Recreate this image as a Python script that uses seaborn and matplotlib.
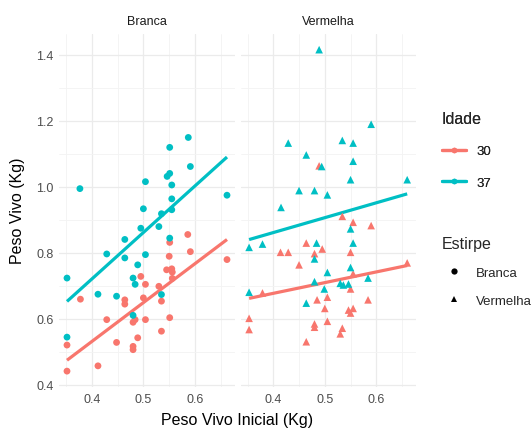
import numpy as np
import pandas as pd
import matplotlib
matplotlib.use("Agg")
import matplotlib.pyplot as plt
import seaborn as sns
from matplotlib.lines import Line2D
from matplotlib.ticker import MultipleLocator

# ---------------- data ----------------
strains = ["Branca", "Vermelha"]
ages = ["30", "37"]
palette = {"30": "#F8766D", "37": "#00BFC4"}

branca_30_x = [0.586, 0.551, 0.550, 0.591, 0.662, 0.545, 0.555, 0.556, 0.495, 0.556,
               0.504, 0.530, 0.378, 0.500, 0.535, 0.464, 0.464, 0.429, 0.484, 0.480,
               0.504, 0.551, 0.535, 0.448, 0.489, 0.480, 0.480, 0.352, 0.412, 0.352]
branca_30_y = [0.856, 0.832, 0.790, 0.804, 0.780, 0.749, 0.752, 0.742, 0.729, 0.723,
               0.705, 0.699, 0.660, 0.664, 0.654, 0.658, 0.645, 0.598, 0.598, 0.590,
               0.598, 0.604, 0.563, 0.529, 0.543, 0.517, 0.507, 0.521, 0.458, 0.442]

branca_37_x = [0.377, 0.587, 0.551, 0.591, 0.551, 0.546, 0.504, 0.555, 0.662, 0.555,
               0.500, 0.535, 0.555, 0.495, 0.530, 0.464, 0.551, 0.429, 0.464, 0.504,
               0.489, 0.352, 0.480, 0.484, 0.412, 0.448, 0.535, 0.480, 0.352]
branca_37_y = [0.995, 1.150, 1.120, 1.062, 1.041, 1.032, 1.016, 1.006, 0.975, 0.964,
               0.934, 0.919, 0.931, 0.875, 0.880, 0.841, 0.845, 0.797, 0.785, 0.795,
               0.764, 0.724, 0.724, 0.705, 0.675, 0.669, 0.674, 0.611, 0.545]

vermelha_30_x = [0.489, 0.534, 0.555, 0.590, 0.464, 0.414, 0.429, 0.480, 0.495, 0.550,
                 0.450, 0.555, 0.660, 0.550, 0.379, 0.505, 0.485, 0.584, 0.500, 0.546,
                 0.555, 0.550, 0.353, 0.480, 0.480, 0.505, 0.534, 0.530, 0.353, 0.464]
vermelha_30_y = [1.064, 0.911, 0.893, 0.883, 0.830, 0.802, 0.802, 0.798, 0.812, 0.802,
                 0.764, 0.737, 0.770, 0.691, 0.679, 0.666, 0.658, 0.658, 0.632, 0.627,
                 0.632, 0.618, 0.602, 0.585, 0.575, 0.593, 0.572, 0.555, 0.568, 0.531]

vermelha_37_x = [0.590, 0.429, 0.534, 0.555, 0.464, 0.555, 0.494, 0.550, 0.660, 0.450,
                 0.480, 0.505, 0.415, 0.550, 0.353, 0.379, 0.484, 0.555, 0.489, 0.480,
                 0.550, 0.505, 0.584, 0.480, 0.530, 0.536, 0.546, 0.499, 0.353, 0.464]
vermelha_37_y = [1.190, 1.133, 1.141, 1.133, 1.097, 1.078, 1.062, 1.022, 1.022, 0.989,
                 0.989, 0.976, 0.938, 0.873, 0.817, 0.827, 0.830, 0.830, 1.416, 0.782,
                 0.756, 0.741, 0.724, 0.713, 0.708, 0.703, 0.706, 0.691, 0.681, 0.648]

x_ticks = [0.4, 0.5, 0.6]
y_ticks = [0.4, 0.6, 0.8, 1.0, 1.2, 1.4]

frames = []
for strain, age, xs, ys in [
    ("Branca", "30", branca_30_x, branca_30_y),
    ("Branca", "37", branca_37_x, branca_37_y),
    ("Vermelha", "30", vermelha_30_x, vermelha_30_y),
    ("Vermelha", "37", vermelha_37_x, vermelha_37_y),
]:
    frames.append(pd.DataFrame({"Estirpe": strain, "Idade": age,
                                "PesoInicial": xs, "Peso": ys}))
df = pd.concat(frames, ignore_index=True)

# ---------------- style ----------------
sns.set_style("white")
plt.rcParams["font.family"] = ["Liberation Sans", "DejaVu Sans"]

W, H = 531, 431
fig = plt.figure(figsize=(W / 100, H / 100), dpi=100)

top_px, bot_px = 34.5, 388.3
panel_h = (bot_px - top_px) / H
panel_b = 1 - bot_px / H
ax1 = fig.add_axes([59 / W, panel_b, 176 / W, panel_h])
ax2 = fig.add_axes([240.6 / W, panel_b, 175.6 / W, panel_h], sharey=ax1)

markers = {"Branca": "o", "Vermelha": "^"}
sizes = {"Branca": 24, "Vermelha": 30}

for ax, strain in zip([ax1, ax2], strains):
    sub = df[df["Estirpe"] == strain]
    for age in ages:
        s2 = sub[sub["Idade"] == age]
        sns.scatterplot(data=s2, x="PesoInicial", y="Peso", color=palette[age],
                        marker=markers[strain], s=sizes[strain], edgecolor="none",
                        ax=ax, legend=False, zorder=3)
        sns.regplot(data=s2, x="PesoInicial", y="Peso", ci=None, scatter=False,
                    color=palette[age], line_kws={"lw": 2.3, "solid_capstyle": "butt"},
                    ax=ax, truncate=True)
    ax.set_xlim(0.3365, 0.6775)
    ax.set_ylim(0.393, 1.465)
    ax.set_xticks(x_ticks)
    ax.xaxis.set_minor_locator(MultipleLocator(0.05))
    ax.set_yticks(y_ticks)
    ax.yaxis.set_minor_locator(MultipleLocator(0.1))
    ax.grid(which="major", color="#ebebeb", lw=0.9)
    ax.grid(which="minor", color="#f3f3f3", lw=0.6)
    ax.set_axisbelow(True)
    for sp in ax.spines.values():
        sp.set_visible(False)
    ax.tick_params(which="both", length=0, labelsize=9, labelcolor="#4d4d4d", pad=4)
    ax.set_xticklabels([f"{t:.1f}" for t in x_ticks])
    ax.set_xlabel("")
    ax.set_ylabel("")
    ax.set_title(strain, fontsize=9, color="#1a1a1a", pad=7)

ax1.set_yticklabels([f"{t:.1f}" for t in y_ticks])
ax2.tick_params(labelleft=False)

fig.text((59 + 416) / 2 / W, 1 - 421 / H, "Peso Vivo Inicial (Kg)", ha="center",
         va="center", fontsize=11.5, color="black")
fig.text(18 / W, 1 - 211 / H, "Peso Vivo (Kg)", ha="center", va="center",
         rotation=90, fontsize=11.5, color="black")

# ---------------- legends ----------------
h_age = [Line2D([0], [0], color=palette[a], lw=2.3, marker="o", markersize=4,
                markeredgewidth=0) for a in ages]
leg1 = fig.legend(h_age, ages, title="Idade", loc="upper left",
                  bbox_to_anchor=(430 / W, 1 - 100 / H), frameon=False,
                  fontsize=9.5, title_fontsize=11.5, handlelength=1.8,
                  handletextpad=0.8, labelspacing=1.45, alignment="left")
h_str = [Line2D([0], [0], color="black", lw=0, marker=markers[s], markersize=4.5,
                markeredgewidth=0) for s in strains]
leg2 = fig.legend(h_str, strains, title="Estirpe", loc="upper left",
                  bbox_to_anchor=(430 / W, 1 - 225 / H), frameon=False,
                  fontsize=9.5, title_fontsize=11.5, handlelength=1.8,
                  handletextpad=0.8, labelspacing=1.2, alignment="left")
fig.add_artist(leg1)

fig.savefig("out.png", dpi=100)
